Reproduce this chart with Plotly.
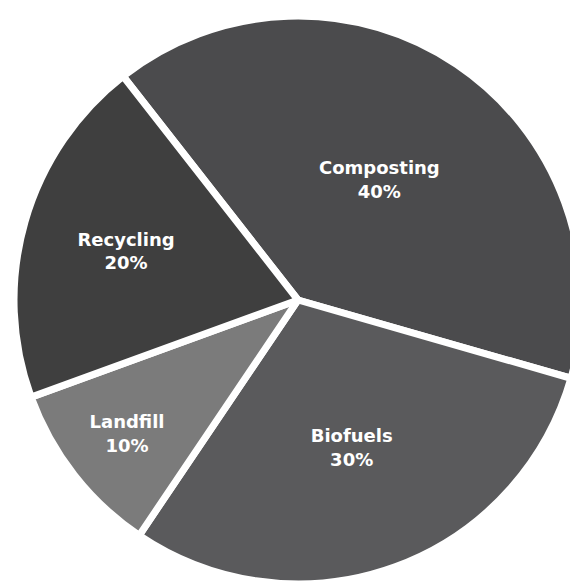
import plotly.graph_objects as go

categories = ["Composting", "Biofuels", "Landfill", "Recycling"]
values = [40, 30, 10, 20]
colors = ["#4b4b4d", "#5a5a5c", "#7b7b7b", "#3f3f3f"]

fig = go.Figure(
    go.Pie(
        labels=categories,
        values=values,
        sort=False,
        direction="clockwise",
        rotation=-38,
        marker=dict(colors=colors, line=dict(color="white", width=7)),
        texttemplate="<b>%{label}</b><br><b>%{value}%</b>",
        textposition="inside",
        insidetextorientation="horizontal",
        textfont=dict(family="DejaVu Sans", size=18, color="white"),
        showlegend=False,
        hoverinfo="label+percent",
        domain=dict(x=[0.0104, 0.993], y=[0.0154, 0.9863]),
    )
)

fig.update_layout(
    width=578,
    height=585,
    margin=dict(l=0, r=0, t=0, b=0),
    paper_bgcolor="white",
    plot_bgcolor="white",
    uniformtext=dict(minsize=18, mode="show"),
)

fig.write_html("out.html")
